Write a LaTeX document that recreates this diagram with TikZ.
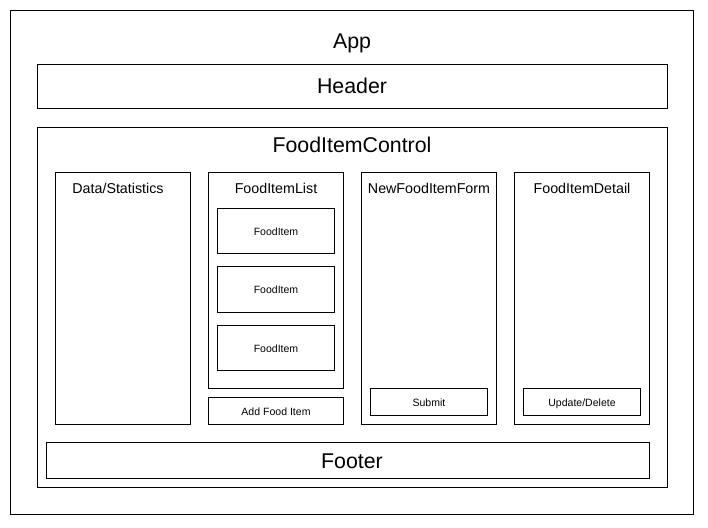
\documentclass[tikz,border=0pt]{standalone}
\usepackage{fontspec}
\setmainfont{Liberation Sans}
\usepackage{tikz}

\tikzset{
  box/.style={draw, line width=0.75pt, color={rgb, 255:red, 0; green, 0; blue, 0}},
  lbl/.style={inner sep=0pt, anchor=base},
  bigtxt/.style={lbl, font=\fontsize{16}{19}\selectfont},
  midtxt/.style={lbl, font=\fontsize{10.7}{13}\selectfont},
  smalltxt/.style={lbl, font=\fontsize{7.9}{10}\selectfont},
}

\begin{document}
\begin{tikzpicture}[x=0.75pt,y=0.75pt,yscale=-1,xscale=1]
        \useasboundingbox (0,0) rectangle (708,528);

        %Shape: Rectangle [App]
        \draw [box] (10.5,10.5) rectangle (693.5,514.5) ;
        %Shape: Rectangle [Header]
        \draw [box] (37.5,64.5) rectangle (667.5,109) ;
        %Shape: Rectangle [FoodItemControl]
        \draw [box] (37.5,127.5) rectangle (667.5,487.5) ;
        %Shape: Rectangle [Data/Statistics]
        \draw [box] (55.5,172.5) rectangle (190.5,424.5) ;
        %Shape: Rectangle [FoodItemList]
        \draw [box] (208.5,172.5) rectangle (343.5,388.5) ;
        %Shape: Rectangle [FoodItem x3]
        \draw [box] (217.5,208.5) rectangle (334.5,253.5) ;
        \draw [box] (217.5,266.5) rectangle (334.5,312) ;
        \draw [box] (217.5,325.5) rectangle (334.5,370.5) ;
        %Shape: Rectangle [Add Food Item]
        \draw [box] (208.5,397.5) rectangle (343.5,424.5) ;
        %Shape: Rectangle [NewFoodItemForm]
        \draw [box] (361.5,172.5) rectangle (496.5,424.5) ;
        %Shape: Rectangle [Submit]
        \draw [box] (370.5,388.5) rectangle (487.5,415.5) ;
        %Shape: Rectangle [FoodItemDetail]
        \draw [box] (514.5,172.5) rectangle (649.5,424.5) ;
        %Shape: Rectangle [Update/Delete]
        \draw [box] (523.5,388.5) rectangle (640.5,415.5) ;
        %Shape: Rectangle [Footer]
        \draw [box] (46.5,442.5) rectangle (649.5,478.5) ;

        % Text Node
        \node [bigtxt] (app) at (352,48.3) {App};
        % Text Node
        \node [bigtxt] (header) at (352,93.3) {Header};
        % Text Node
        \node [bigtxt] (control) at (352,152.7) {FoodItemControl};
        % Text Node
        \node [midtxt] (stats) at (118,193.8) {Data/Statistics};
        % Text Node
        \node [midtxt] (list) at (276,193.8) {FoodItemList};
        % Text Node
        \node [midtxt] (form) at (429,193.8) {NewFoodItemForm};
        % Text Node
        \node [midtxt] (detail) at (582,193.8) {FoodItemDetail};
        % Text Node
        \node [smalltxt] (itema) at (276,235) {FoodItem};
        % Text Node
        \node [smalltxt] (itemb) at (276,293.3) {FoodItem};
        % Text Node
        \node [smalltxt] (itemc) at (276,352) {FoodItem};
        % Text Node
        \node [smalltxt] (add) at (276,415.7) {Add Food Item};
        % Text Node
        \node [smalltxt] (submit) at (429,406) {Submit};
        % Text Node
        \node [smalltxt] (update) at (582,406) {Update/Delete};
        % Text Node
        \node [bigtxt] (footer) at (352,468.3) {Footer};

\end{tikzpicture}
\end{document}
